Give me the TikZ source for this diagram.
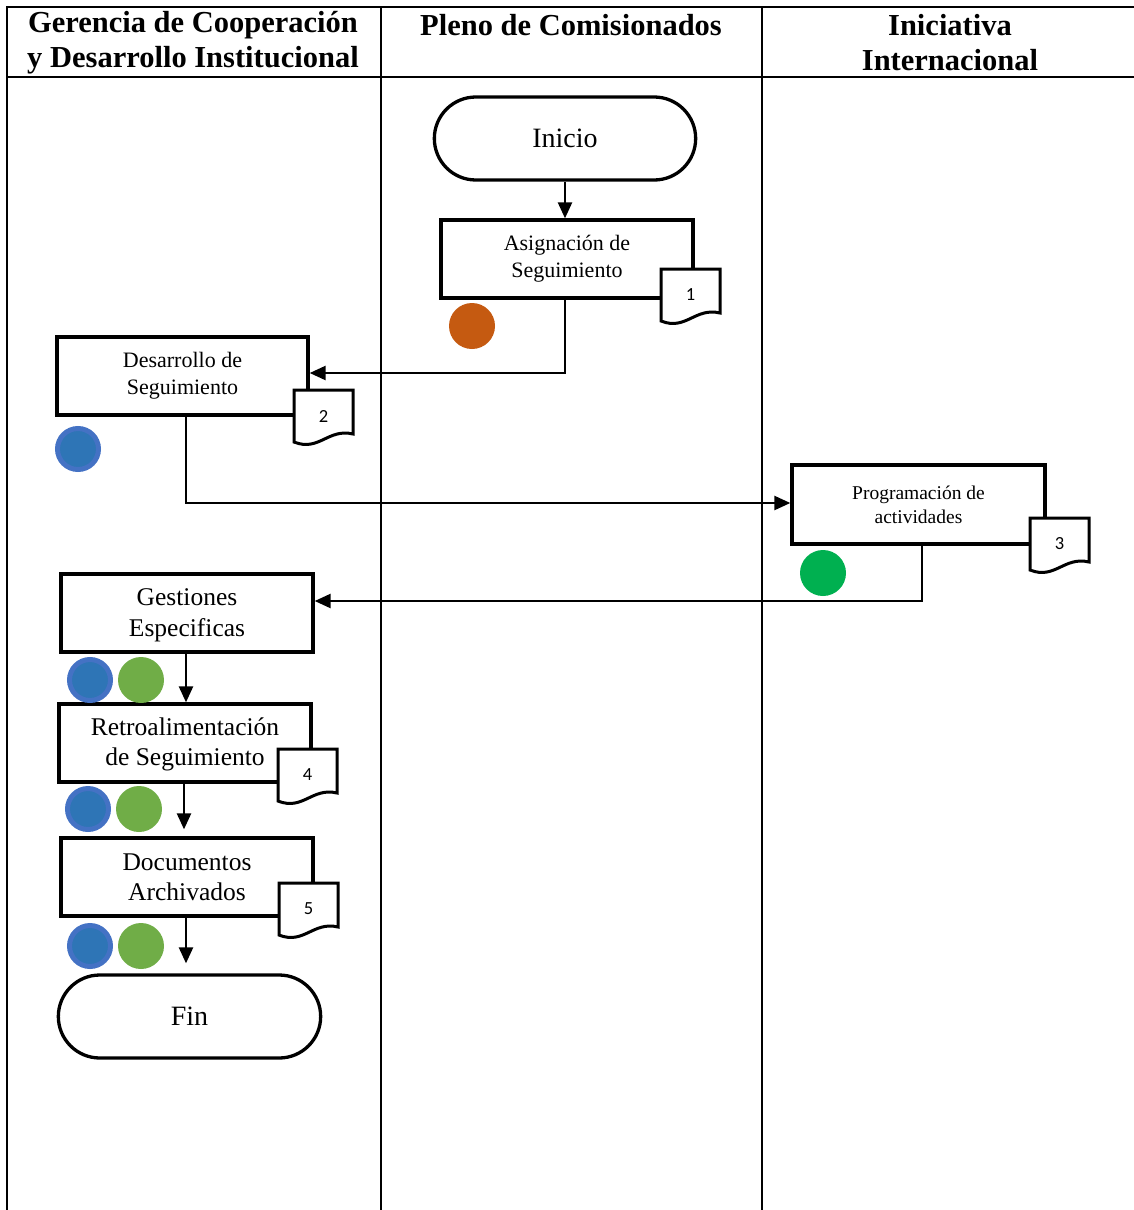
\documentclass[tikz,border=0pt]{standalone}
\usepackage{fontspec}
\setmainfont{Liberation Serif}
\newfontfamily\numfont{Carlito}
\usetikzlibrary{arrows.meta,shapes.misc}

\definecolor{laneblue}{HTML}{4472C4}
\definecolor{laneblueinner}{HTML}{2E75B6}
\definecolor{lanegreen}{HTML}{70AD47}
\definecolor{brightgreen}{HTML}{00B050}
\definecolor{burntorange}{HTML}{C55A11}

% document sheet with a wavy lower edge: #1 name, #2/#3 top-left corner, #4 number
\newcommand\docsheet[4]{%
  \draw[line width=3pt, fill=white, line join=miter]
    (#2,#3) -- ++(59,0) -- ++(0,44)
    .. controls ++(-25,-6) and ++(25,10) .. ++(-59,8) -- cycle;
  \node[font=\numfont\fontsize{18.5}{20}\selectfont] (#1) at ({#2+29.5},{#3+26}) {#4};
}

\begin{document}
\begin{tikzpicture}[x=1pt,y=-1pt,
  lane/.style={line width=1.6pt},
  head/.style={font=\bfseries\fontsize{30.5}{35}\selectfont, align=center},
  procbox/.style={draw, line width=3.3pt, minimum width=252pt, minimum height=78pt,
    align=center, inner sep=0pt},
  terminal/.style={draw, rounded rectangle, line width=3.3pt, minimum width=268pt,
    minimum height=83pt, font=\fontsize{28}{32}\selectfont},
  conn/.style={line width=2.4pt, -{Triangle[length=16pt,width=14pt]}},
  dot/.style={circle, minimum size=46pt, inner sep=0pt},
  bluedot/.style={dot, fill=laneblueinner, draw=laneblue, line width=5pt, minimum size=41pt},
  greendot/.style={dot, fill=lanegreen},
]
\useasboundingbox (0,0) rectangle (1134,1210);

% swimlane frame
\draw[lane] (7,1210) -- (7,7) -- (1134,7);
\draw[lane] (7,77) -- (1134,77);
\draw[lane] (381,7) -- (381,1210);
\draw[lane] (762,7) -- (762,1210);

\node[head] (h1) at (193,42.5) {Gerencia de Cooperación\\y Desarrollo Institucional};
\node[head] (h2) at (571,25.5) {Pleno de Comisionados};
\node[head] (h3) at (950,42.5) {Iniciativa\\Internacional};

% flow steps
\node[terminal] (inicio) at (565,138.5) {Inicio};
\node[procbox, font=\fontsize{22}{27}\selectfont] (asig) at (567,259) {Asignación de\\Seguimiento};
\node[procbox, minimum width=251pt, font=\fontsize{22}{27}\selectfont] (desa) at (182.5,376) {Desarrollo de\\Seguimiento};
\node[procbox, minimum width=253pt, minimum height=79pt, font=\fontsize{19.5}{24}\selectfont] (prog) at (918.5,504.5) {Programación de\\actividades};
\node[procbox, font=\fontsize{25.5}{31}\selectfont] (gest) at (187,613) {\\[-10pt]Gestiones\\Especificas};
\node[procbox, font=\fontsize{25.5}{30}\selectfont] (retro) at (185,743) {\\[-10pt]Retroalimentación\\de Seguimiento};
\node[procbox, font=\fontsize{25.5}{30}\selectfont] (docu) at (187,877) {Documentos\\Archivados};
\node[terminal, minimum width=269pt] (fin) at (189.5,1016.5) {Fin};

% attached documents
\docsheet{d1}{661}{269}{1}
\docsheet{d2}{294}{390}{2}
\docsheet{d3}{1030}{518}{3}
\docsheet{d4}{278}{749}{4}
\docsheet{d5}{279}{883}{5}

% responsibility markers
\node[dot, fill=burntorange] (c1) at (472,326) {};
\node[bluedot] (c2) at (78,449) {};
\node[dot, fill=brightgreen] (c3) at (823,573) {};
\node[bluedot] (c4a) at (90,680) {};
\node[greendot] (c4b) at (141,680) {};
\node[bluedot] (c5a) at (88,809) {};
\node[greendot] (c5b) at (139,809) {};
\node[bluedot] (c6a) at (90,946) {};
\node[greendot] (c6b) at (141,946) {};

% connectors
\draw[conn] (inicio.south) -- (inicio.south |- asig.north);
\draw[conn] ([xshift=-2pt]asig.south) |- ([yshift=3pt]desa.east);
\draw[conn] ([xshift=3.5pt]desa.south) |- ([yshift=1.5pt]prog.west);
\draw[conn] ([xshift=3.5pt]prog.south) |- ([yshift=12pt]gest.east);
\draw[conn] ([xshift=-1pt]gest.south) -- ([xshift=-1pt]gest.south |- retro.north);
\draw[conn, shorten >=7pt] ([xshift=-1pt]retro.south) -- ([xshift=-1pt]retro.south |- docu.north);
\draw[conn, shorten >=10pt] ([xshift=-1pt]docu.south) -- ([xshift=-1pt]docu.south |- fin.north);
\end{tikzpicture}
\end{document}
